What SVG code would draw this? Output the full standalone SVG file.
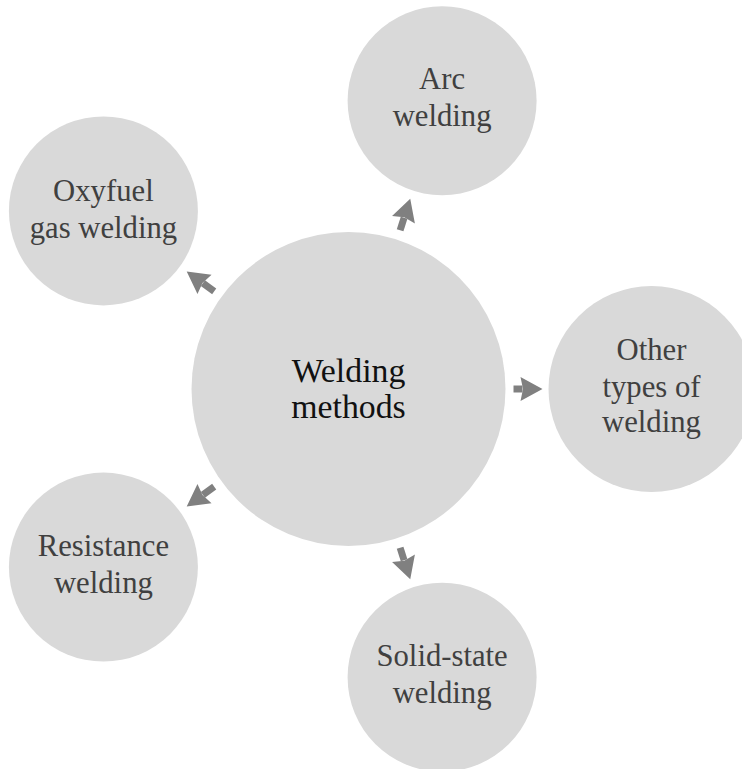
<svg xmlns="http://www.w3.org/2000/svg" width="742" height="769" viewBox="0 0 742 769">
  <style>
    .node { fill: #d9d9d9; }
    .label { font-family: "Liberation Serif", "Times New Roman", serif; font-size: 30.7px; fill: #404040; text-anchor: middle; }
    .main { font-size: 33.8px; fill: #111111; }
    .conn { stroke: #808080; stroke-width: 7; fill: none; marker-end: url(#arrow); }
  </style>
  <defs>
    <marker id="arrow" markerUnits="userSpaceOnUse" viewBox="-2 -13 26 26" markerWidth="26" markerHeight="26" refX="2" refY="0" orient="auto">
      <path d="M0,-12 L22,0 L0,12 L2.5,0 Z" fill="#808080"/>
    </marker>
  </defs>
  <rect width="742" height="769" fill="#ffffff"/>

  <g id="center">
    <circle class="node" cx="348.5" cy="389" r="157"/>
    <text class="label main" x="348.5" y="382">Welding</text>
    <text class="label main" x="348.5" y="418">methods</text>
  </g>

  <g id="arc">
    <circle class="node" cx="442.1" cy="100.8" r="94.5"/>
    <text class="label" x="442.1" y="89.3">Arc</text>
    <text class="label" x="442.1" y="125.7">welding</text>
  </g>

  <g id="oxyfuel">
    <circle class="node" cx="103.4" cy="210.9" r="94.5"/>
    <text class="label" x="103.4" y="200.5">Oxyfuel</text>
    <text class="label" x="103.4" y="237.5">gas welding</text>
  </g>

  <g id="other">
    <circle class="node" cx="651.5" cy="389" r="103"/>
    <text class="label" x="651.5" y="360">Other</text>
    <text class="label" x="651.5" y="396.5">types of</text>
    <text class="label" x="651.5" y="431.7">welding</text>
  </g>

  <g id="resistance">
    <circle class="node" cx="103.4" cy="567.1" r="94.5"/>
    <text class="label" x="103.4" y="556">Resistance</text>
    <text class="label" x="103.4" y="592.7">welding</text>
  </g>

  <g id="solid">
    <circle class="node" cx="442.1" cy="677.2" r="94.5"/>
    <text class="label" x="442.1" y="666">Solid-state</text>
    <text class="label" x="442.1" y="702.7">welding</text>
  </g>

  <g id="connectors">
    <line class="conn" x1="400.1" y1="230.2" x2="404.1" y2="217.8"/>
    <line class="conn" x1="214.2" y1="291.4" x2="202.9" y2="283.2"/>
    <line class="conn" x1="513.5" y1="389" x2="522.5" y2="389"/>
    <line class="conn" x1="214.2" y1="486.6" x2="202.9" y2="494.8"/>
    <line class="conn" x1="400.1" y1="547.8" x2="404.1" y2="560.2"/>
  </g>
</svg>
